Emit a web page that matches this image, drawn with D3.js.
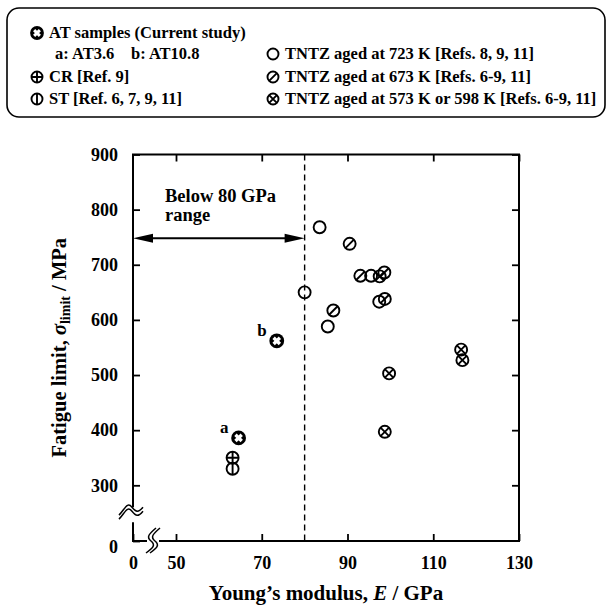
<!DOCTYPE html>
<html>
<head>
<meta charset="utf-8">
<script src="https://cdn.jsdelivr.net/npm/d3@7"></script>
<style>
  body { margin: 0; background: #fff; }
  svg, svg text { font-family: "Liberation Serif", "Times New Roman", serif; font-weight: bold; }
</style>
</head>
<body>
<div id="chart"></div>
<script>
// fatigue limit vs Young's modulus
var atPoints = [
  {E: 64.6, s: 386, label: "a"},
  {E: 73.5, s: 562, label: "b"}
];
var crPoints = [{E: 63.2, s: 350}];
var stPoints = [{E: 63.2, s: 330}];
var aged723 = [
  {E: 83.5, s: 768}, {E: 80.0, s: 650}, {E: 85.4, s: 588},
  {E: 95.5, s: 680}, {E: 97.4, s: 633}
];
var aged673 = [
  {E: 90.5, s: 738}, {E: 86.7, s: 617}, {E: 93.0, s: 680},
  {E: 98.6, s: 686}, {E: 98.7, s: 638}
];
var aged573 = [
  {E: 97.5, s: 679}, {E: 99.7, s: 503}, {E: 98.7, s: 397},
  {E: 116.5, s: 546}, {E: 116.8, s: 527}
];
var xTicks = [0, 50, 70, 90, 110, 130];
var yTicks = [0, 300, 400, 500, 600, 700, 800, 900];
var limitE = 80;
var arrowS = 748;

var width = 609, height = 606;

var svg = d3.select("#chart").append("svg")
  .attr("width", width)
  .attr("height", height);

// broken axes: 0..50 and 0..300 squeezed
var x = d3.scaleLinear().domain([0, 50, 130]).range([133, 176, 519]);
var y = d3.scaleLinear().domain([0, 300, 900]).range([541, 485.3, 154.5]);

function marker(g, type, r) {
  var k = r * 0.707;
  if (type == "at") {
    g.append("circle").attr("r", r + 1.4).attr("fill", "#000");
    var c = r * 0.52;
    g.append("path").attr("d", "M" + (-c) + "," + (-c) + "L" + c + "," + c + "M" + c + "," + (-c) + "L" + (-c) + "," + c)
      .attr("stroke", "#fff").attr("stroke-width", r * 0.55);
    return;
  }
  g.append("circle").attr("r", r).attr("fill", "none").attr("stroke", "#000").attr("stroke-width", 1.9);
  var d = "";
  if (type == "cr") d = "M" + (-r) + ",0L" + r + ",0M0," + (-r) + "L0," + r;
  if (type == "st") d = "M0," + (-r) + "L0," + r;
  if (type == "slash") d = "M" + k + "," + (-k) + "L" + (-k) + "," + k;
  if (type == "cross") d = "M" + (-k) + "," + (-k) + "L" + k + "," + k + "M" + k + "," + (-k) + "L" + (-k) + "," + k;
  if (d) g.append("path").attr("d", d).attr("stroke", "#000").attr("stroke-width", 1.9);
}

// legend box
var leg = svg.append("g");
leg.append("rect").attr("x", 7).attr("y", 8).attr("width", 598).attr("height", 109)
  .attr("rx", 12).attr("fill", "none").attr("stroke", "#000").attr("stroke-width", 1.6);

var legendItems = [
  {type: "at", x: 37, y: 38, text: "AT samples (Current study)"},
  {type: "cr", x: 37, y: 82, text: "CR [Ref. 9]"},
  {type: "st", x: 37, y: 104, text: "ST [Ref. 6, 7, 9, 11]"},
  {type: "open", x: 273, y: 59, text: "TNTZ aged at 723 K [Refs. 8, 9, 11]"},
  {type: "slash", x: 273, y: 82, text: "TNTZ aged at 673 K [Refs. 6-9, 11]"},
  {type: "cross", x: 273, y: 104, text: "TNTZ aged at 573 K or 598 K [Refs. 6-9, 11]"}
];
legendItems.forEach(function(it) {
  var g = leg.append("g").attr("transform", "translate(" + it.x + "," + (it.y - 5) + ")");
  marker(g, it.type, 5.5);
  leg.append("text").attr("x", it.x + 12).attr("y", it.y).attr("font-size", 16.5).text(it.text);
});
leg.append("text").attr("x", 55).attr("y", 59).attr("font-size", 16.5).text("a: AT3.6");
leg.append("text").attr("x", 131).attr("y", 59).attr("font-size", 16.5).text("b: AT10.8");

// axes
var ax = svg.append("g");
var xAxis = d3.axisBottom(x).tickValues(xTicks).tickSizeInner(-7).tickSizeOuter(0).tickPadding(15).tickFormat(d3.format("d"));
var yAxis = d3.axisLeft(y).tickValues(yTicks).tickSizeInner(-7).tickSizeOuter(0).tickPadding(15).tickFormat(d3.format("d"));

var gx = ax.append("g").attr("transform", "translate(0," + y(0) + ")").call(xAxis);
var gy = ax.append("g").attr("transform", "translate(" + x(0) + ",0)").call(yAxis);
ax.append("g").attr("transform", "translate(0," + y(900) + ")")
  .call(d3.axisTop(x).tickValues(xTicks.slice(1)).tickSizeInner(-7).tickSizeOuter(0).tickFormat(""));
ax.append("g").attr("transform", "translate(" + x(130) + ",0)")
  .call(d3.axisRight(y).tickValues(yTicks.slice(1)).tickSizeInner(-7).tickSizeOuter(0).tickFormat(""));

ax.selectAll("g").attr("font-family", null).attr("font-size", null);
ax.selectAll(".domain").remove();
ax.selectAll(".tick line").attr("stroke", "#000").attr("stroke-width", 1.8);
ax.selectAll(".tick text").attr("font-size", 18).attr("fill", "#000");
gy.selectAll(".tick").filter(function(d) { return d == 0; }).select("text").attr("dy", "0.62em");

// frame with breaks
var x0 = x(0), x1 = x(130), y0 = y(0), y1 = y(900);
var bx = (x(0) + x(50)) / 2 - 1.5, by = (y(0) + y(300)) / 2;
var frame = "M" + x0 + "," + (by - 6) + "L" + x0 + "," + y1 + "L" + x1 + "," + y1 + "L" + x1 + "," + y0 +
  "L" + (bx + 6) + "," + y0 + "M" + (bx - 6) + "," + y0 + "L" + x0 + "," + y0 + "L" + x0 + "," + (by + 9);
ax.append("path").attr("d", frame).attr("fill", "none").attr("stroke", "#000").attr("stroke-width", 2);

// break marks
[-2, 2].forEach(function(o) {
  ax.append("path")
    .attr("d", "M" + (x0 - 14) + "," + (by + 4 + o) + "C" + (x0 - 8) + "," + (by - 2 + o) + " " + (x0 - 6) + "," + (by - 10 + o) + " " + (x0 - 1) + "," + (by - 4 + o) +
      "C" + (x0 + 3) + "," + (by + 1 + o) + " " + (x0 + 5) + "," + (by + 2 + o) + " " + (x0 + 10) + "," + (by - 4 + o))
    .attr("fill", "none").attr("stroke", "#000").attr("stroke-width", 1.5);
  ax.append("path")
    .attr("d", "M" + (bx + 5 + o) + "," + (y0 - 13) + "C" + (bx - 2 + o) + "," + (y0 - 7) + " " + (bx - 5 + o) + "," + (y0 - 4) + " " + (bx + o) + "," + y0 +
      "C" + (bx + 5 + o) + "," + (y0 + 4) + " " + (bx + 2 + o) + "," + (y0 + 7) + " " + (bx - 5 + o) + "," + (y0 + 12))
    .attr("fill", "none").attr("stroke", "#000").attr("stroke-width", 1.5);
});

// 80 GPa limit line
svg.append("line").attr("x1", x(limitE)).attr("x2", x(limitE)).attr("y1", y1).attr("y2", y0)
  .attr("stroke", "#000").attr("stroke-width", 1.4).attr("stroke-dasharray", "6,4");

// double arrow
var ay = y(arrowS), ax0 = x0, ax1 = x(limitE);
svg.append("line").attr("x1", ax0 + 10).attr("x2", ax1 - 10).attr("y1", ay).attr("y2", ay)
  .attr("stroke", "#000").attr("stroke-width", 2);
svg.append("path").attr("d", "M" + ax0 + "," + ay + "L" + (ax0 + 20) + "," + (ay - 4.5) + "L" + (ax0 + 20) + "," + (ay + 4.5) + "Z");
svg.append("path").attr("d", "M" + ax1 + "," + ay + "L" + (ax1 - 20) + "," + (ay - 4.5) + "L" + (ax1 - 20) + "," + (ay + 4.5) + "Z");
svg.append("text").attr("x", 165).attr("y", 202).attr("font-size", 18.5).text("Below 80 GPa");
svg.append("text").attr("x", 165).attr("y", 221).attr("font-size", 18.5).text("range");

// points
function plot(data, type, r) {
  data.forEach(function(d) {
    var g = svg.append("g").attr("transform", "translate(" + x(d.E) + "," + y(d.s) + ")");
    marker(g, type, r);
  });
}
plot(aged723, "open", 6);
plot(aged673, "slash", 6);
plot(aged573, "cross", 6);
plot(crPoints, "cr", 6);
plot(stPoints, "st", 6);
plot(atPoints, "at", 6);
atPoints.forEach(function(d) {
  svg.append("text").attr("x", x(d.E) - 10).attr("y", y(d.s) - 5)
    .attr("text-anchor", "end").attr("font-size", 17).text(d.label);
});

// axis titles
svg.append("text").attr("x", (x0 + x1) / 2).attr("y", 600).attr("text-anchor", "middle").attr("font-size", 21)
  .call(function(t) {
    t.append("tspan").text("Young\u2019s modulus, ");
    t.append("tspan").attr("font-style", "italic").text("E");
    t.append("tspan").text(" / GPa");
  });
svg.append("text").attr("transform", "translate(66," + ((y0 + y1) / 2) + ") rotate(-90)")
  .attr("text-anchor", "middle").attr("font-size", 20.5)
  .call(function(t) {
    t.append("tspan").text("Fatigue limit, ");
    t.append("tspan").attr("font-style", "italic").text("\u03c3");
    t.append("tspan").attr("font-size", 14).attr("dy", 4).text("limit");
    t.append("tspan").attr("dy", -4).text(" / MPa");
  });
</script>
</body>
</html>
